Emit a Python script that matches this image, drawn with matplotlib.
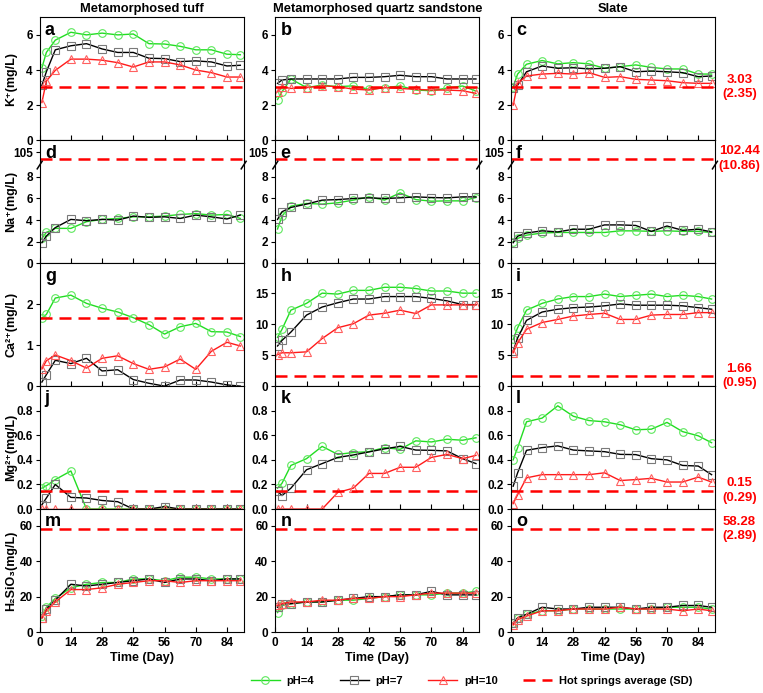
import numpy as np
import matplotlib.pyplot as plt

plt.rcParams['font.family'] = ['Liberation Sans', 'DejaVu Sans']
plt.rcParams['font.weight'] = 'bold'
plt.rcParams['axes.labelweight'] = 'bold'

days = [1, 3, 7, 14, 21, 28, 35, 42, 49, 56, 63, 70, 77, 84, 90]
rocks = ['Metamorphosed tuff', 'Metamorphosed quartz sandstone', 'Slate']
ph_labels = ['pH=4', 'pH=7', 'pH=10']

# K+ (pH4, pH7, pH10)
k_tuff = [[4.13, 5.0, 5.7, 6.15, 6.0, 6.1, 6.0, 6.05, 5.5, 5.48, 5.35, 5.15, 5.15, 4.9, 4.87],
          [3.13, 3.9, 5.15, 5.38, 5.5, 5.2, 5.0, 5.0, 4.67, 4.65, 4.48, 4.52, 4.46, 4.23, 4.27],
          [2.15, 3.37, 3.98, 4.62, 4.62, 4.56, 4.42, 4.17, 4.46, 4.46, 4.29, 4.0, 3.85, 3.6, 3.6]]
k_sand = [[2.32, 2.76, 3.49, 3.0, 3.14, 3.05, 3.1, 2.9, 2.99, 3.09, 2.86, 2.82, 2.97, 3.09, 2.8],
          [3.24, 3.43, 3.49, 3.49, 3.49, 3.49, 3.58, 3.58, 3.62, 3.7, 3.62, 3.62, 3.49, 3.49, 3.49],
          [2.76, 3.05, 2.95, 3.0, 3.1, 3.05, 2.91, 2.86, 3.0, 2.95, 2.9, 2.86, 2.86, 2.82, 2.67]]
k_slate = [[3.05, 3.77, 4.33, 4.54, 4.35, 4.42, 4.35, 4.1, 4.19, 4.29, 4.15, 4.06, 4.06, 3.77, 3.77],
           [3.0, 3.14, 3.9, 4.23, 4.1, 4.13, 4.06, 4.1, 4.19, 3.9, 3.94, 3.9, 3.85, 3.62, 3.66],
           [2.0, 3.24, 3.66, 3.77, 3.81, 3.77, 3.85, 3.58, 3.62, 3.47, 3.43, 3.39, 3.28, 3.24, 3.24]]

# Na+ (no pH=10 series)
na_tuff = [[2.3, 2.86, 3.23, 3.23, 3.85, 4.06, 4.15, 4.3, 4.3, 4.37, 4.52, 4.6, 4.46, 4.52, 4.15],
           [1.9, 2.52, 3.3, 4.06, 3.94, 4.06, 4.0, 4.37, 4.25, 4.3, 4.15, 4.46, 4.3, 4.1, 4.46],
           None]
na_sand = [[3.17, 4.37, 5.29, 5.54, 5.48, 5.6, 5.85, 6.15, 5.85, 6.52, 5.9, 5.75, 5.78, 5.78, 6.09],
           [4.06, 4.77, 5.17, 5.48, 5.85, 5.9, 6.0, 6.06, 6.0, 6.06, 6.15, 6.09, 6.06, 6.15, 6.15],
           None]
na_slate = [[2.0, 2.3, 2.6, 2.8, 2.85, 2.85, 2.85, 2.85, 3.0, 3.0, 2.95, 3.0, 2.95, 2.95, 2.85],
            [1.9, 2.5, 2.8, 3.0, 2.9, 3.15, 3.15, 3.55, 3.55, 3.5, 2.95, 3.45, 3.05, 3.15, 2.9],
            None]

# Ca2+
ca_tuff = [[1.66, 1.75, 2.15, 2.22, 2.02, 1.9, 1.81, 1.67, 1.5, 1.27, 1.45, 1.53, 1.33, 1.32, 1.21],
           [0.1, 0.28, 0.63, 0.55, 0.68, 0.37, 0.4, 0.16, 0.07, 0.0, 0.15, 0.15, 0.1, 0.03, 0.0],
           [0.42, 0.62, 0.76, 0.62, 0.44, 0.68, 0.74, 0.55, 0.41, 0.47, 0.66, 0.41, 0.85, 1.07, 0.98]]
ca_sand = [[7.9, 9.2, 12.3, 13.4, 15.05, 14.9, 15.5, 15.5, 16.0, 16.0, 15.8, 15.4, 15.4, 15.05, 15.05],
           [6.5, 7.4, 8.75, 11.5, 12.8, 13.5, 14.1, 14.1, 14.5, 14.5, 14.5, 14.2, 13.8, 13.2, 13.2],
           [5.1, 5.4, 5.4, 5.55, 7.7, 9.45, 10.1, 11.5, 11.8, 12.3, 11.75, 13.15, 13.15, 13.15, 13.15]]
ca_slate = [[7.55, 9.45, 12.3, 13.4, 14.1, 14.5, 14.5, 14.9, 14.5, 14.7, 14.9, 14.5, 14.7, 14.5, 14.1],
            [5.65, 7.8, 10.65, 12.0, 12.45, 12.7, 12.8, 13.0, 13.3, 13.1, 13.1, 13.1, 13.0, 12.7, 12.45],
            [5.4, 7.0, 9.2, 10.3, 10.8, 11.35, 11.6, 11.8, 10.8, 10.8, 11.5, 11.6, 11.6, 11.9, 11.9]]

# Mg2+
mg_tuff = [[0.17, 0.19, 0.24, 0.31, 0.0, 0.0, 0.0, 0.0, 0.0, 0.0, 0.0, 0.0, 0.0, 0.0, 0.0],
           [0.035, 0.09, 0.2, 0.095, 0.09, 0.07, 0.06, 0.0, 0.0, 0.02, 0.0, 0.0, 0.0, 0.0, 0.0],
           [0.0, 0.0, 0.0, 0.0, 0.0, 0.0, 0.0, 0.0, 0.0, 0.0, 0.0, 0.0, 0.0, 0.0, 0.0]]
mg_sand = [[0.17, 0.21, 0.355, 0.41, 0.51, 0.445, 0.46, 0.467, 0.5, 0.486, 0.555, 0.546, 0.568, 0.56, 0.58],
           [0.145, 0.11, 0.17, 0.32, 0.37, 0.42, 0.44, 0.465, 0.49, 0.51, 0.48, 0.478, 0.473, 0.41, 0.37],
           [0.0, 0.0, 0.0, 0.0, 0.0, 0.135, 0.17, 0.29, 0.29, 0.34, 0.34, 0.42, 0.445, 0.41, 0.437]]
mg_slate = [[0.4, 0.5, 0.71, 0.74, 0.84, 0.755, 0.72, 0.71, 0.686, 0.645, 0.65, 0.705, 0.63, 0.596, 0.54],
            [0.186, 0.295, 0.478, 0.5, 0.514, 0.48, 0.473, 0.467, 0.445, 0.443, 0.41, 0.4, 0.355, 0.35, 0.28],
            [0.044, 0.117, 0.254, 0.28, 0.28, 0.28, 0.28, 0.295, 0.232, 0.24, 0.25, 0.22, 0.22, 0.26, 0.22]]

# H2SiO3
si_tuff = [[9, 14, 19, 25, 27, 28, 28, 30, 30, 29, 31, 31, 30, 30, 30],
           [8, 13, 18, 27, 26, 27, 28, 29, 30, 28, 30, 30, 29, 30, 30],
           [8, 12, 17, 24, 24, 25, 27, 28, 29, 29, 28, 29, 29, 29, 29]]
si_sand = [[11, 15, 16, 17, 17, 18, 18, 19, 20, 21, 21, 21, 22, 22, 23],
           [14, 16, 16, 17, 17, 18, 19, 20, 20, 21, 21, 23, 21, 21, 21],
           [15, 16, 17, 17, 18, 18, 19, 19, 20, 20, 21, 22, 22, 22, 22]]
si_slate = [[5, 8, 10, 12, 12, 13, 13, 13, 13, 13, 13, 14, 14, 14, 13],
            [5, 8, 10, 14, 13, 13, 14, 14, 14, 13, 14, 14, 15, 15, 14],
            [4, 7, 9, 12, 12, 13, 13, 13, 14, 13, 13, 13, 12, 13, 12]]

# hot springs average and SD
avg_vals = [3.03, 102.44, 1.66, 0.15, 58.28]
avg_text = ['3.03', '102.44', '1.66', '0.15', '58.28']
sd_text = ['2.35', '10.86', '0.95', '0.29', '2.89']

ylabels = ['K⁺(mg/L)', 'Na⁺(mg/L)', 'Ca²⁺(mg/L)', 'Mg²⁺(mg/L)', 'H₂SiO₃(mg/L)']
row_data = [[k_tuff, k_sand, k_slate], [na_tuff, na_sand, na_slate],
            [ca_tuff, ca_sand, ca_slate], [mg_tuff, mg_sand, mg_slate],
            [si_tuff, si_sand, si_slate]]
letters = 'abcdefghijklmno'

line_cols = ['#22dd22', 'black', '#ff1a1a']
edge_cols = ['#5ee85e', '#7a7a7a', '#ff6060']
markers = ['o', 's', '^']


# broken Na axis: upper segment squeezed above 9
def na_pos(v):
    return 10.3 + (v - 105) * 0.234


fig, axes = plt.subplots(5, 3, figsize=(7.63, 6.93),
                         gridspec_kw=dict(hspace=0, wspace=0.155, left=0.052, right=0.937,
                                          top=0.975, bottom=0.088))

for r in range(5):
    for c in range(3):
        ax = axes[r, c]
        for s in range(3):
            vals = row_data[r][c][s]
            if vals is None:
                continue
            ax.plot(days, vals, color=line_cols[s], lw=1.0, marker=markers[s], ms=5.5,
                    mfc='none', mec=edge_cols[s], mew=0.8, label=ph_labels[s])
        avg = na_pos(avg_vals[r]) if r == 1 else avg_vals[r]
        ax.axhline(avg, color='red', lw=1.8, dashes=(4.8, 2.8), label='Hot springs average (SD)')

        ax.set_xlim(0, 91.5)
        ax.set_xticks(range(0, 85, 14))
        ax.tick_params(axis='x', direction='in', length=3.5, labelsize=8.5, labelbottom=(r == 4))
        ax.tick_params(axis='y', direction='out', length=3, labelsize=8.5, pad=2)
        if r == 0:
            ax.set_ylim(0, 7)
            ax.set_yticks([0, 2, 4, 6])
            ax.set_title(rocks[c], fontsize=9.3, fontweight='bold', pad=4)
        elif r == 1:
            ax.set_ylim(0, 11.4)
            ax.set_yticks([0, 2, 4, 6, 8, na_pos(105)])
            ax.set_yticklabels(['0', '2', '4', '6', '8', '105'])
            for xs in [0, 1]:
                ax.plot([xs - 0.012, xs + 0.012], [8.75, 9.45], color='black', lw=1.1,
                        transform=ax.get_yaxis_transform(), clip_on=False)
        elif r == 2:
            if c == 0:
                ax.set_ylim(0, 3)
                ax.set_yticks([0, 1, 2])
            else:
                ax.set_ylim(0, 19.9)
                ax.set_yticks([0, 5, 10, 15])
        elif r == 3:
            ax.set_ylim(0, 1.0)
            ax.set_yticks([0.0, 0.2, 0.4, 0.6, 0.8])
            ax.set_yticklabels(['0.0', '0.2', '0.4', '0.6', '0.8'])
        else:
            ax.set_ylim(0, 69.5)
            ax.set_yticks([0, 20, 40, 60])
            ax.set_xlabel('Time (Day)', fontsize=9, fontweight='bold', labelpad=2)

        for lab in ax.get_xticklabels() + ax.get_yticklabels():
            lab.set_fontweight('bold')
        ax.text(0.025, 0.965, letters[r * 3 + c], transform=ax.transAxes, fontsize=13,
                fontweight='bold', va='top', ha='left')
        if c == 0:
            ax.set_ylabel(ylabels[r], fontsize=9, fontweight='bold')
            ax.yaxis.set_label_coords(-0.11, 0.5)
        if c == 2:
            ax.text(1.12, avg, avg_text[r] + '\n(' + sd_text[r] + ')', transform=ax.get_yaxis_transform(),
                    ha='center', va='center', color='red', fontsize=9.5, fontweight='bold',
                    linespacing=1.3, clip_on=False)

# legend under the grid
h, l = axes[0, 0].get_legend_handles_labels()
fig.legend(h, l, loc='center', bbox_to_anchor=(0.618, 0.018), ncol=4, frameon=False,
           fontsize=8, handlelength=2.6, columnspacing=2.3, handletextpad=0.6)

fig.savefig('out.png', dpi=100)
